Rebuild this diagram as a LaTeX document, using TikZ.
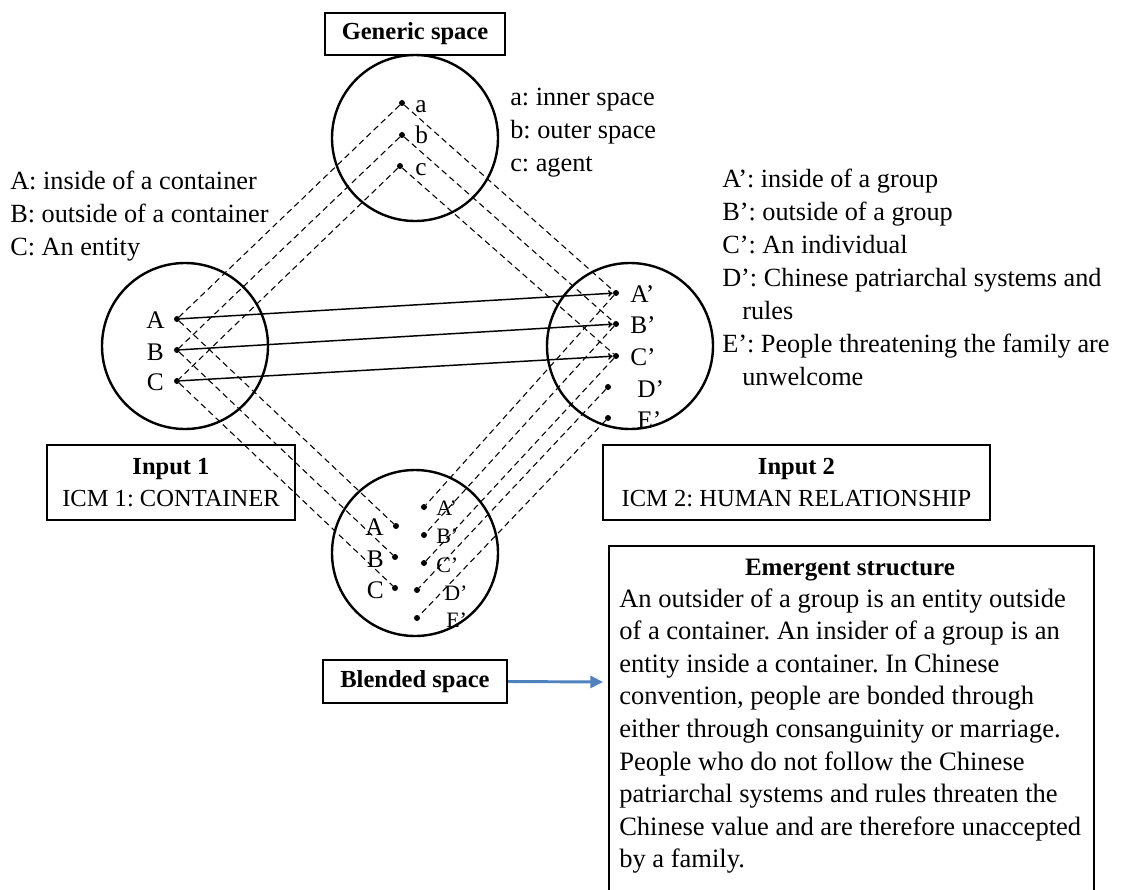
\documentclass[tikz,border=0pt]{standalone}
\usepackage{fontspec}
\setmainfont{Liberation Serif}
\usepackage{xcolor}
\usetikzlibrary{arrows,arrows.meta}
\definecolor{arrowblue}{RGB}{79,129,189}
\frenchspacing
\tikzset{
        spacecircle/.style = {draw, circle, line width=1.8pt,
            minimum size=124.5pt, inner sep=0pt},
        titlebox/.style = {draw, rectangle, line width=1.8pt, align=center,
            font=\fontsize{18.4}{24.5}\selectfont},
        elem/.style = {circle, fill, inner sep=0pt, minimum size=4.5pt},
        lbl/.style = {inner sep=0pt, font=\fontsize{19}{23}\selectfont},
        smalllbl/.style = {inner sep=0pt, font=\fontsize{16.5}{20}\selectfont},
        legend/.style = {inner sep=0pt, anchor=north west, align=left,
            font=\fontsize{19.7}{24.75}\selectfont},
        mapline/.style = {draw, dash pattern=on 4.5pt off 3pt, line width=0.8pt},
        link/.style = {draw, line width=1.1pt, -{To[length=3.5pt,width=5pt]}},
        blendarrow/.style = {draw, arrowblue, line width=2.2pt,
            -{Triangle[length=9.5pt,width=9pt]}},
    }

\begin{document}
\begin{tikzpicture}[x=0.75pt,y=0.75pt,yscale=-1,xscale=1]
    \path[use as bounding box, clip] (0,0) rectangle (1121,889);

    % the four mental spaces
    \node[spacecircle] (generic) at (415,138) {};
    \node[spacecircle] (input1) at (185,346) {};
    \node[spacecircle] (input2) at (630,346) {};
    \node[spacecircle] (blend) at (415,553) {};

    % titles of the spaces
    \node[titlebox, minimum width=135pt, minimum height=31.5pt] (generictitle) at (415,34) {\textbf{Generic space}};
    \node[titlebox, minimum width=186pt, minimum height=56.25pt] (input1title) at (171,482.5) {\textbf{Input 1}\\ICM 1: CONTAINER};
    \node[titlebox, minimum width=290.25pt, minimum height=56.25pt] (input2title) at (796.5,482.5) {\textbf{Input 2}\\ICM 2: HUMAN RELATIONSHIP};
    \node[titlebox, minimum width=138pt, minimum height=32.25pt] (blendtitle) at (415,681.5) {\textbf{Blended space}};

    % elements of each space
    \foreach \n/\x/\y in {ga/402/103, gb/402/135, gc/400/166,
                          iA/177/319, iB/177/350, iC/177/381,
                          jA/616/293, jB/616/324, jC/616/356, jD/608/387, jE/608/418,
                          bA/396/526, bB/395/557, bC/395/588,
                          bAp/424/507, bBp/424/535, bCp/424/563, bDp/417/590, bEp/417/618}
        \node[elem] (\n) at (\x,\y) {};

    % element labels
    \node[lbl, anchor=base west] (ga-l) at (415,112) {a};
    \node[lbl, anchor=base west] (gb-l) at (415,143) {b};
    \node[lbl, anchor=base west] (gc-l) at (415,175) {c};
    \node[lbl, anchor=base east] (iA-l) at (165,328) {A};
    \node[lbl, anchor=base east] (iB-l) at (164,360) {B};
    \node[lbl, anchor=base east] (iC-l) at (164,390) {C};
    \node[lbl, anchor=base west] (jA-l) at (630,302) {A'};
    \node[lbl, anchor=base west] (jB-l) at (630,333) {B'};
    \node[lbl, anchor=base west] (jC-l) at (630,365) {C'};
    \node[lbl, anchor=base west] (jD-l) at (637,397) {D'};
    \node[lbl, anchor=base west] (jE-l) at (637,428) {E'};
    \node[lbl, anchor=base east] (bA-l) at (384,535) {A};
    \node[lbl, anchor=base east] (bB-l) at (384,567) {B};
    \node[lbl, anchor=base east] (bC-l) at (384,598) {C};
    \node[smalllbl, anchor=base west] (bAp-l) at (436,515) {A'};
    \node[smalllbl, anchor=base west] (bBp-l) at (436,543) {B'};
    \node[smalllbl, anchor=base west] (bCp-l) at (436,572) {C'};
    \node[smalllbl, anchor=base west] (bDp-l) at (444,600) {D'};
    \node[smalllbl, anchor=base west] (bEp-l) at (446,627) {E'};

    % dashed projections between the spaces
    \foreach \s/\t in {ga/iA, gb/iB, gc/iC, ga/jA, gb/jB, gc/jC,
                       iA/bA, iB/bB, iC/bC,
                       jA/bAp, jB/bBp, jC/bCp, jD/bDp, jE/bEp}
        \draw[mapline] (\s) -- (\t);

    % cross-space mapping
    \draw[link] (iA) -- (jA);
    \draw[link] (iB) -- (jB);
    \draw[link] (iC) -- (jC);

    % legends
    \node[legend] (genericlegend) at (510,82) {\strut a: inner space\\b: outer space\\c: agent};
    \node[legend] (input1legend) at (10,166) {\strut A: inside of a container\\B: outside of a container\\C: An entity};
    \node[legend] (input2legend) at (722,164) {\strut A': inside of a group\\B': outside of a group\\C': An individual\\D': Chinese patriarchal systems and\\\hspace*{15pt}rules\\E': People threatening the family are\\\hspace*{15pt}unwelcome};

    % emergent structure
    \node[draw, line width=1.8pt, anchor=north west, minimum width=363.75pt, minimum height=270pt] (emergent) at (608,545) {};
    \node[inner sep=0pt, anchor=base, font=\bfseries\fontsize{18.75}{24.5}\selectfont] (emergenttitle) at (850,575) {Emergent structure};
    \node[inner sep=0pt, anchor=north west, align=left, font=\fontsize{19.9}{24.45}\selectfont] (emergenttext) at (619,584) {\strut An outsider of a group is an entity outside\\of a container. An insider of a group is an\\entity inside a container. In Chinese\\convention, people are bonded through\\either through consanguinity or marriage.\\People who do not follow the Chinese\\patriarchal systems and rules threaten the\\Chinese value and are therefore unaccepted\\by a family.};

    \coordinate (emergentin) at (603,682);
    \draw[blendarrow] (blendtitle.east) -- (emergentin);
\end{tikzpicture}
\end{document}
